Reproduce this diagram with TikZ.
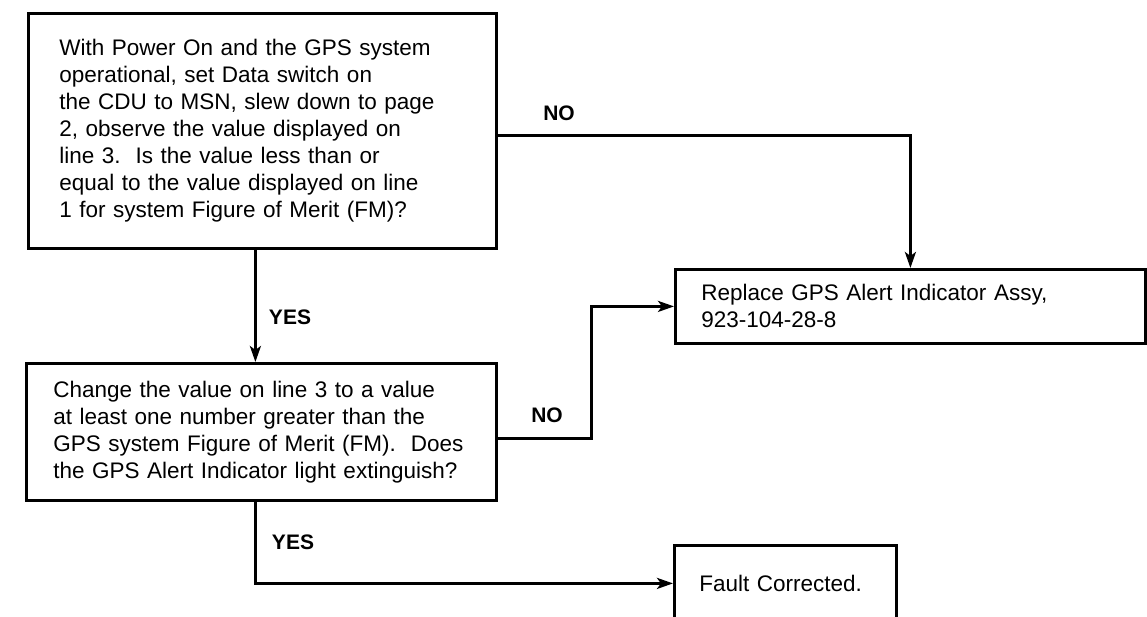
\documentclass[tikz,border=0pt]{standalone}
\usepackage{fontspec}
\setmainfont{Liberation Sans}
\usetikzlibrary{arrows.meta}
\tikzset{
  box/.style={draw,rectangle,line width=2.8pt,anchor=north west,align=left,inner ysep=0pt,font=\fontsize{22.5}{27}\selectfont},
  lbl/.style={font=\fontsize{21}{25}\selectfont\bfseries},
  arr/.style={line width=2.8pt,-{Stealth[length=16pt,width=11pt,inset=4pt]}},
}

\begin{document}
\begin{tikzpicture}[x=1pt,y=-1pt]
  \useasboundingbox (0,0) rectangle (1147,616);
  \clip (0,0) rectangle (1147,616);
  \node[box,inner xsep=31pt,text width=406pt,minimum height=235pt] (chk) at (27,12) {With Power On and the GPS system\\operational, set Data switch on\\the CDU to MSN, slew down to page\\2, observe the value displayed on\\line 3.\ \ Is the value less than or\\equal to the value displayed on line\\1 for system Figure of Merit (FM)?};
  \node[box,inner xsep=27pt,text width=416pt,minimum height=137pt] (chg) at (25,362) {Change the value on line 3 to a value\\at least one number greater than the\\GPS system Figure of Merit (FM).\ \ Does\\the GPS Alert Indicator light extinguish?};
  \node[box,inner xsep=26pt,text width=418pt,minimum height=74pt] (rep) at (674,268) {Replace GPS Alert Indicator Assy,\\923-104-28-8};
  \node[box,inner xsep=25pt,text width=172pt,minimum height=76pt] (fix) at (673,544) {Fault Corrected.};
  \draw[arr] ([yshift=-4.5pt]chk.east) -| (rep.north);
  \draw[arr] ([xshift=-7pt]chk.south) -- ([xshift=-6pt]chg.north);
  \draw[arr] ([yshift=-6.5pt]chg.east) -- ++(94,0) |- (rep.west);
  \draw[arr] ([xshift=-6pt]chg.south) |- (fix.west);
  \node[lbl] at (559,113) {NO};
  \node[lbl] at (290,317) {YES};
  \node[lbl] at (547,415) {NO};
  \node[lbl] at (293,542) {YES};
\end{tikzpicture}
\end{document}
